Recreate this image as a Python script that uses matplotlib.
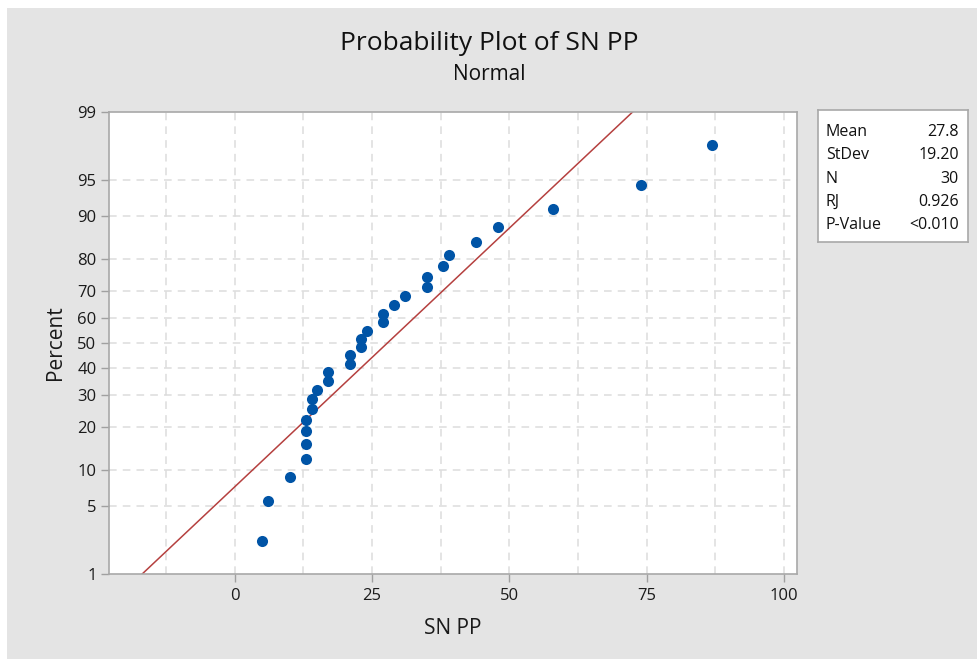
import numpy as np
import matplotlib
matplotlib.use("Agg")
import matplotlib.pyplot as plt
from matplotlib.patches import Rectangle
from statistics import NormalDist

# ---- data ----
sn_pp = [5, 6, 10, 13, 13, 13, 13, 14, 14, 15, 17, 17, 21, 21, 23, 23, 24,
         27, 27, 29, 31, 35, 35, 38, 39, 44, 48, 58, 74, 87]
y_ticks = [1, 5, 10, 20, 30, 40, 50, 60, 70, 80, 90, 95, 99]
x_ticks = [0, 25, 50, 75, 100]
stat_labels = ["Mean", "StDev", "N", "RJ", "P-Value"]
stat_values = ["27.8", "19.20", "30", "0.926", "<0.010"]

plt.rcParams['font.family'] = ['Open Sans', 'DejaVu Sans']

nd = NormalDist()
x = np.sort(np.array(sn_pp, dtype=float))
n = len(x)
ranks = np.arange(1, n + 1)
pct = (ranks - 0.3) / (n + 0.4) * 100.0
mean = x.mean()
sd = x.std(ddof=1)

_inv_cdf = np.vectorize(lambda v: nd.inv_cdf(v / 100.0), otypes=[float])
_cdf = np.vectorize(lambda v: nd.cdf(v) * 100.0, otypes=[float])

def fwd(p):
    p = np.clip(np.asarray(p, dtype=float), 1e-9, 100 - 1e-9)
    return _inv_cdf(p)

def inv(z):
    return _cdf(np.asarray(z, dtype=float))

fig = plt.figure(figsize=(9.78, 6.59), dpi=100, facecolor='white')
fig.patches.append(Rectangle((7 / 978, 0), 1, 1 - 8 / 659, transform=fig.transFigure,
                             facecolor='#e4e4e4', edgecolor='none', zorder=-10))

ax = fig.add_axes([109 / 978, 1 - 574 / 659, (797 - 109) / 978, (574 - 112) / 659])
ax.set_facecolor('white')
ax.set_yscale('function', functions=(fwd, inv))
ax.set_ylim(1, 99)
ax.set_xlim(-22.9, 102.4)

grid_kw = dict(color='#dcdcdc', linestyle=(0, (5, 4)), linewidth=1.1, zorder=0)
for gx in np.arange(-12.5, 101, 12.5):
    ax.axvline(gx, **grid_kw)
for gy in y_ticks[1:-1]:
    ax.axhline(gy, **grid_kw)

# fitted line
line_p = np.array([1.0, 99.0])
line_x = mean + sd * np.array([nd.inv_cdf(p / 100) for p in line_p])
ax.plot(line_x, line_p, color='#b5403f', linewidth=1.1, zorder=2, clip_on=True)

ax.plot(x, pct, 'o', color='#0054a6', markersize=8, markeredgewidth=0, zorder=3)

ax.set_yticks(y_ticks)
ax.set_yticklabels([str(t) for t in y_ticks])
ax.yaxis.set_minor_locator(matplotlib.ticker.NullLocator())
ax.set_xticks(x_ticks)
ax.set_xticklabels([str(t) for t in x_ticks])
ax.tick_params(axis='both', colors='#a0a0a0', labelcolor='#1a1a1a', labelsize=12,
               length=6, width=1)
ax.tick_params(axis='x', pad=4)
ax.tick_params(axis='y', pad=3)
for s in ax.spines.values():
    s.set_color('#a8a8a8')
    s.set_linewidth(1.2)

ax.set_xlabel('SN PP', fontsize=15, color='#1a1a1a', labelpad=10)
ax.set_ylabel('Percent', fontsize=15, color='#1a1a1a', labelpad=8)

fig.text(0.5, 1 - 44 / 659, 'Probability Plot of SN PP', ha='center', va='center',
         fontsize=19, color='#111111')
fig.text(0.5, 1 - 74 / 659, 'Normal', ha='center', va='center', fontsize=15,
         color='#111111')

# stats box
bx = fig.add_axes([818 / 978, 1 - 242 / 659, 150 / 978, 132 / 659])
bx.set_facecolor('white')
bx.set_xticks([]); bx.set_yticks([])
for s in bx.spines.values():
    s.set_color('#a8a8a8')
    s.set_linewidth(1.2)
bx.set_xlim(0, 150); bx.set_ylim(132, 0)
for i, (lab, val) in enumerate(zip(stat_labels, stat_values)):
    yy = 22 + i * 23.3
    bx.text(8, yy, lab, ha='left', va='center', fontsize=11.5, color='#111111')
    bx.text(141, yy, val, ha='right', va='center', fontsize=11.5, color='#111111')

fig.savefig('out.png', dpi=100, facecolor=fig.get_facecolor())
